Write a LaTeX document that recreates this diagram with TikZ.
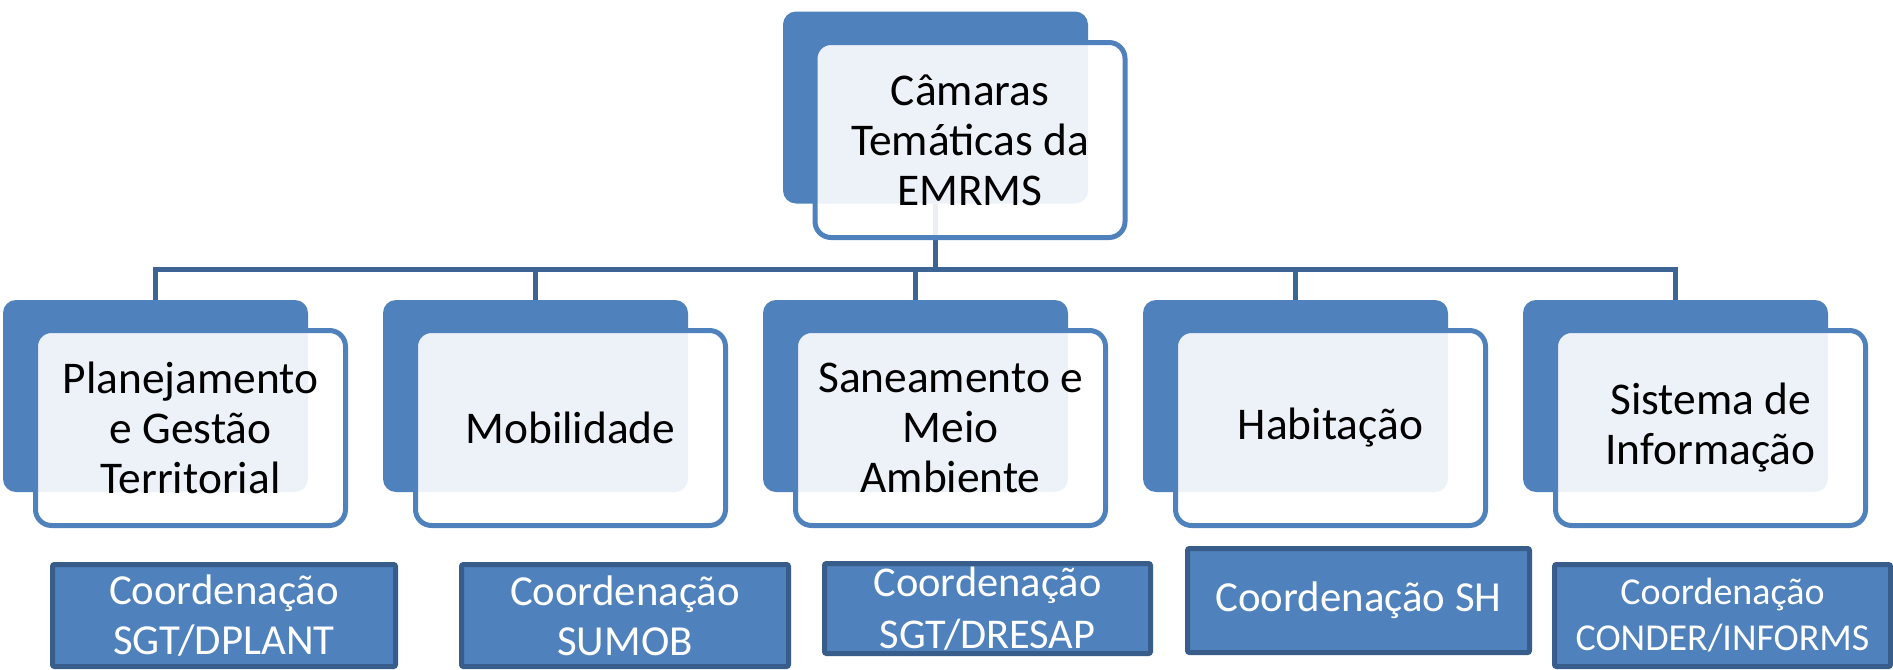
\documentclass[tikz,border=0pt]{standalone}
\usepackage{fontspec}
\setmainfont{Carlito}
\definecolor{accent}{HTML}{4F81BD}
\definecolor{accdark}{HTML}{385D8A}
\definecolor{connc}{HTML}{3C6595}
\begin{document}
\begin{tikzpicture}[x=0.5pt,y=-0.5pt,
  backbox/.style={fill=accent, rounded corners=6.5pt, minimum width=152.5pt, minimum height=96pt, inner sep=0pt},
  frontbox/.style={draw=accent, line width=2.5pt, fill=white, fill opacity=0.9, text opacity=1, rounded corners=8pt,
    minimum width=155pt, minimum height=97.5pt, inner sep=0pt, align=center, text=black,
    font=\fontsize{22.7}{25}\selectfont},
  coordbox/.style={draw=accdark, fill=accent, line width=2.5pt, rounded corners=1pt, inner sep=0pt,
    align=center, text=white},
  bigtxt/.style={font=\fontsize{21.4}{25}\selectfont},
  link/.style={draw=connc, line width=2.5pt}]
\useasboundingbox (0,0) rectangle (1893,669);

% back boxes
\node[backbox] (tb) at (935.5,107.5) {};
\node[backbox] (b1) at (155.5,396) {};
\node[backbox] (b2) at (535.5,396) {};
\node[backbox] (b3) at (915.5,396) {};
\node[backbox] (b4) at (1295.5,396) {};
\node[backbox] (b5) at (1675.5,396) {};

% connectors
\coordinate (bus) at (0,269);
\foreach \b in {b1,b2,b3,b4,b5}{
  \draw[link] (tb.south) -- (tb.south |- bus) -| (\b.north);
}

% front boxes
\node[frontbox] (tf) at (970,140) {Câmaras\\Temáticas da\\EMRMS};
\node[frontbox] (f1) at (190.5,428) {Planejamento\\e Gestão\\Territorial};
\node[frontbox] (f2) at (570.5,428) {Mobilidade};
\node[frontbox] (f3) at (950.5,428) {Saneamento e\\Meio\\Ambiente};
\node[frontbox] (f4) at (1330.5,428) {Habitação};
\node[frontbox] (f5) at (1710.5,428) {Sistema de\\Informação};

% coordination boxes
\node[coordbox, bigtxt, minimum width=171.5pt, minimum height=51pt] (c1) at (224,615.5) {Coordenação\\SGT/DPLANT};
\node[coordbox, bigtxt, minimum width=163.5pt, minimum height=51pt] (c2) at (625,615.5) {Coordenação\\SUMOB};
\node[coordbox, font=\fontsize{21.2}{26}\selectfont, minimum width=163pt, minimum height=45pt] (c3) at (987.5,608.5) {Coordenação\\SGT/DRESAP};
\node[coordbox, bigtxt, minimum width=171pt, minimum height=52pt] (c4) at (1358.5,600.5) {Coordenação SH};
\node[coordbox, font=\fontsize{19}{23}\selectfont, minimum width=168pt, minimum height=51pt] (c5) at (1722.5,615.5) {Coordenação\\CONDER/INFORMS};
\end{tikzpicture}
\end{document}
